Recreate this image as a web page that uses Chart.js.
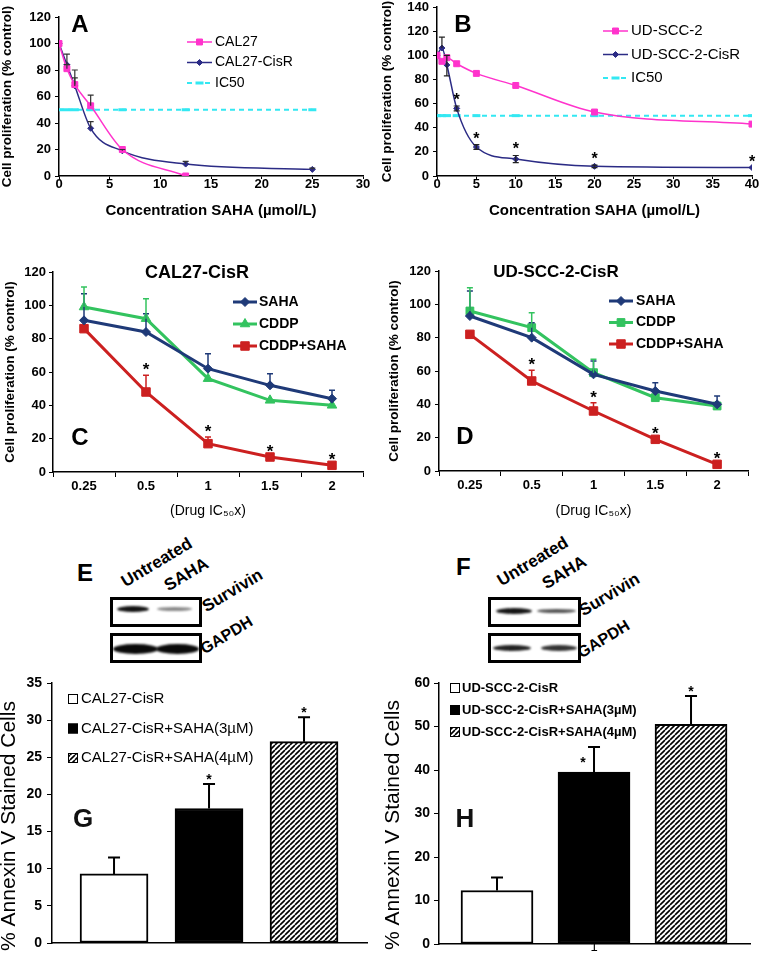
<!DOCTYPE html>
<html>
<head>
<meta charset="utf-8">
<title>SAHA / CDDP panels</title>
<script src="https://cdn.jsdelivr.net/npm/chart.js@4.4.1/dist/chart.umd.min.js"></script>
<style>
  body { margin: 0; background: #fff; font-family: "Liberation Sans", Arial, sans-serif; }
  #page { position: relative; width: 759px; height: 962px; overflow: hidden; background: #fff; }
  canvas, .blot, .band, .lbl, .letter { position: absolute; }
  .blot { border: 3px solid #000; background: #fff; box-sizing: border-box; }
  .band { border-radius: 50%; filter: blur(1.3px); }
  .lbl { font-weight: bold; font-size: 17px; line-height: 1; white-space: nowrap; transform-origin: 0 100%; transform: rotate(-31deg); }
  .letter { font-weight: bold; font-size: 24px; line-height: 1; }
</style>
</head>
<body>
<div id="page">
  <canvas id="cA" width="380" height="222" style="left:0;top:0"></canvas>
  <canvas id="cB" width="379" height="222" style="left:380px;top:0"></canvas>
  <canvas id="cC" width="380" height="290" style="left:0;top:240px"></canvas>
  <canvas id="cD" width="379" height="290" style="left:380px;top:240px"></canvas>

  <!-- western blots E -->
  <div class="letter" style="left:77px;top:561px">E</div>
  <div class="lbl" style="left:127px;top:573px">Untreated</div>
  <div class="lbl" style="left:170px;top:577px">SAHA</div>
  <div class="lbl" style="left:208px;top:598px">Survivin</div>
  <div class="lbl" style="left:206px;top:641px;font-size:16px">GAPDH</div>
  <div class="blot" style="left:110px;top:597px;width:92px;height:30px"></div>
  <div class="band" style="left:117px;top:606px;width:32px;height:6px;background:#111"></div>
  <div class="band" style="left:157px;top:607px;width:35px;height:4px;background:#888"></div>
  <div class="blot" style="left:110px;top:633px;width:92px;height:30px"></div>
  <div class="band" style="left:113px;top:644px;width:45px;height:10px;background:#0a0a0a"></div>
  <div class="band" style="left:156px;top:644px;width:43px;height:10px;background:#0a0a0a"></div>

  <!-- western blots F -->
  <div class="letter" style="left:456px;top:555px">F</div>
  <div class="lbl" style="left:503px;top:572px">Untreated</div>
  <div class="lbl" style="left:548px;top:575px">SAHA</div>
  <div class="lbl" style="left:585px;top:602px">Survivin</div>
  <div class="lbl" style="left:583px;top:645px;font-size:16px">GAPDH</div>
  <div class="blot" style="left:488px;top:597px;width:93px;height:30px"></div>
  <div class="band" style="left:496px;top:608px;width:36px;height:6px;background:#151515"></div>
  <div class="band" style="left:537px;top:609px;width:39px;height:4px;background:#555"></div>
  <div class="blot" style="left:488px;top:633px;width:93px;height:30px"></div>
  <div class="band" style="left:493px;top:645px;width:38px;height:6px;background:#222"></div>
  <div class="band" style="left:541px;top:645px;width:36px;height:6px;background:#333"></div>

  <canvas id="cG" width="380" height="292" style="left:0;top:670px"></canvas>
  <canvas id="cH" width="379" height="292" style="left:380px;top:670px"></canvas>
</div>

<script>
// ---- data ----
// A: SAHA dose response, CAL27 lines
const concA = [0, 0.78, 1.56, 3.125, 6.25, 12.5, 25];
const cal27 = [100, 81, 69, 53, 20, 0];
const cal27Err = [0, 3, 5, 8, 0, 0];
const cal27Cis = [100, 84, 68, 36, 19, 9, 5];
const cal27CisErr = [0, 8, 12, 5, 1, 2, 1];
const ic50A = [50, 50, 50, 50, 50, 50, 50];

// B: SAHA dose response, UD-SCC-2 lines
const concB = [0, 0.625, 1.25, 2.5, 5, 10, 20, 40];
const udscc = [100, 95, 98, 93, 85, 75, 53, 43];
const udsccCis = [100, 106, 92, 56, 24, 14, 8, 7];
const udsccCisErrUp = [0, 9, 8, 2, 2, 3, 1, 0];
const udsccCisErrDown = [0, 0, 9, 2, 2, 3, 1, 0];
const ic50B = [50, 50, 50, 50, 50, 50, 50, 50];
const starsB = [3, 4, 5, 6, 7];

// C / D: combination, x = drug IC50 multiples
const doseLabels = ['0.25', '0.5', '1', '1.5', '2'];
const cSaha = [91, 84, 62, 52, 44];
const cSahaErr = [16, 11, 9, 7, 5];
const cCddp = [99, 92, 56, 43, 40];
const cCddpErr = [12, 12, 0, 0, 0];
const cCombo = [86, 48, 17, 9, 4];
const cComboErr = [0, 10, 4, 0, 0];
const starsC = [1, 2, 3, 4];

const dSaha = [93, 80, 58, 48, 40];
const dSahaErr = [15, 9, 8, 5, 5];
const dCddp = [96, 86, 59, 44, 39];
const dCddpErr = [14, 9, 8, 0, 0];
const dCombo = [82, 54, 36, 19, 4];
const dComboErr = [0, 6.5, 5, 0, 0];
const starsD = [1, 2, 3, 4];

// G / H: annexin V
const groupsG = ['CAL27-CisR', 'CAL27-CisR+SAHA(3µM)', 'CAL27-CisR+SAHA(4µM)'];
const annexinG = [9.3, 18.1, 27.1];
const annexinGErr = [2.2, 3.3, 3.3];
const groupsH = ['UD-SCC-2-CisR', 'UD-SCC-2-CisR+SAHA(3µM)', 'UD-SCC-2-CisR+SAHA(4µM)'];
const annexinH = [12.3, 39.5, 50.5];
const annexinHErr = [3, 5.8, 6.5];

// ---- setup ----
const FONT = '"Liberation Sans", Arial, sans-serif';
Chart.defaults.font.family = FONT;
Chart.defaults.color = '#000';
Chart.defaults.animation = false;
Chart.defaults.responsive = false;
Chart.defaults.plugins.legend.display = false;
Chart.defaults.plugins.tooltip.enabled = false;

const MAG = '#ff33cc', NAVY = '#2b2b85', CYAN = '#33e8f2';
const BLUE = '#1f3a78', GREEN = '#33c35f', RED = '#cc2020';

function pts(xs, ys) { return ys.map((v, i) => ({x: xs[i], y: v})); }
function valOf(r) { return (r !== null && typeof r === 'object') ? r.y : r; }

function makeHatch() {
  const c = document.createElement('canvas');
  c.width = 5; c.height = 5;
  const g = c.getContext('2d');
  g.fillStyle = '#fff'; g.fillRect(0, 0, 5, 5);
  g.strokeStyle = '#000'; g.lineWidth = 1.6;
  g.beginPath();
  for (let k = -5; k <= 10; k += 5) { g.moveTo(k, 5); g.lineTo(k + 5, 0); }
  g.stroke();
  return g.createPattern(c, 'repeat');
}

// error bars from dataset.errUp / errDown
const errorBars = {
  id: 'errorBars',
  afterDatasetsDraw(chart, args, o) {
    const ctx = chart.ctx, ys = chart.scales.y;
    chart.data.datasets.forEach((ds, i) => {
      const up = ds.errUp || [], down = ds.errDown || [];
      if (!up.length && !down.length) return;
      ctx.save();
      ctx.strokeStyle = o.color || ds.borderColor;
      ctx.lineWidth = o.width;
      chart.getDatasetMeta(i).data.forEach((el, j) => {
        const v = valOf(ds.data[j]);
        [[up[j], 1], [down[j], -1]].forEach(([e, s]) => {
          if (!e) return;
          const py = ys.getPixelForValue(v + s * e);
          ctx.beginPath();
          ctx.moveTo(el.x, el.y); ctx.lineTo(el.x, py);
          ctx.moveTo(el.x - o.cap, py); ctx.lineTo(el.x + o.cap, py);
          ctx.stroke();
        });
      });
      ctx.restore();
    });
  }
};

// significance stars above the error bar tops
const stars = {
  id: 'stars',
  afterDatasetsDraw(chart, args, o) {
    if (!o.list) return;
    const ctx = chart.ctx, ys = chart.scales.y;
    ctx.save();
    ctx.font = o.font; ctx.fillStyle = '#000';
    ctx.textAlign = 'center'; ctx.textBaseline = 'alphabetic';
    o.list.forEach(([di, j, dx, dy]) => {
      const ds = chart.data.datasets[di];
      const top = valOf(ds.data[j]) + ((ds.errUp || [])[j] || 0);
      const el = chart.getDatasetMeta(di).data[j];
      ctx.fillText('*', el.x + (dx || 0), ys.getPixelForValue(top) - o.gap + (dy || 0));
    });
    ctx.restore();
  }
};

// legend drawn inside the plot
const sideLegend = {
  id: 'sideLegend',
  afterDraw(chart, args, o) {
    if (o.x === undefined) return;
    const ctx = chart.ctx;
    chart.data.datasets.forEach((ds, i) => {
      const y = o.y + i * o.rowH;
      let tx;
      ctx.save();
      if (o.box) {
        ctx.fillStyle = ds.backgroundColor;
        ctx.fillRect(o.x, y - o.box / 2, o.box, o.box);
        ctx.strokeStyle = '#000'; ctx.lineWidth = 1;
        ctx.strokeRect(o.x + 0.5, y - o.box / 2 + 0.5, o.box - 1, o.box - 1);
        tx = o.x + o.box + o.gap;
      } else {
        ctx.strokeStyle = ds.borderColor; ctx.lineWidth = ds.borderWidth;
        ctx.setLineDash(ds.borderDash || []);
        ctx.beginPath(); ctx.moveTo(o.x, y); ctx.lineTo(o.x + o.len, y); ctx.stroke();
        ctx.setLineDash([]);
        ctx.fillStyle = ds.pointBackgroundColor; ctx.strokeStyle = ds.pointBorderColor;
        ctx.lineWidth = ds.pointBorderWidth;
        const pOpts = {pointStyle: ds.pointStyle, radius: ds.pointRadius, rotation: 0, borderWidth: ds.pointBorderWidth};
        if (Chart.helpers && Chart.helpers.drawPoint) Chart.helpers.drawPoint(ctx, pOpts, o.x + o.len / 2, y);
        tx = o.x + o.len + o.gap;
      }
      ctx.fillStyle = '#000'; ctx.font = o.font;
      ctx.textAlign = 'left'; ctx.textBaseline = 'middle';
      ctx.fillText(ds.label, tx, y);
      ctx.restore();
    });
  }
};

// free text: panel letters, titles
const texts = {
  id: 'texts',
  afterDraw(chart, args, o) {
    const ctx = chart.ctx;
    (o.items || []).forEach(t => {
      ctx.save();
      ctx.font = t.font; ctx.fillStyle = t.color || '#000';
      ctx.textAlign = 'center'; ctx.textBaseline = 'middle';
      ctx.translate(t.x, t.y);
      if (t.rot) ctx.rotate(t.rot * Math.PI / 180);
      ctx.fillText(t.text, 0, 0);
      ctx.restore();
    });
  }
};

const allPlugins = [errorBars, stars, sideLegend, texts];

function yAxis(o) {
  return {
    min: 0, max: o.max,
    ticks: {stepSize: o.step, color: '#000', padding: o.pad, font: o.font},
    grid: {drawOnChartArea: false, color: '#000', tickLength: o.tick, lineWidth: 1},
    border: {color: '#000', width: 1.5},
    title: o.title ? {display: true, text: o.title, color: '#000', font: o.titleFont, padding: {top: o.titlePad, bottom: 0}} : {display: false},
    afterFit(s) { s.width = o.width; s.paddingTop = 0; s.paddingBottom = 0; }
  };
}

function xAxis(o) {
  const ax = {
    offset: !!o.offset,
    ticks: {color: '#000', padding: o.pad, font: o.font, display: o.labels !== false},
    grid: {drawOnChartArea: false, color: '#000', tickLength: o.tick, drawTicks: o.tick > 0, offset: !!o.offset},
    border: {color: '#000', width: 1.5},
    title: o.title ? {display: true, text: o.title, color: '#000', font: o.titleFont, padding: {top: 0, bottom: o.titlePad}} : {display: false},
    afterFit(s) { s.height = o.height; s.paddingLeft = 0; s.paddingRight = 0; }
  };
  if (o.step) ax.ticks.stepSize = o.step;
  if (o.callback) { ax.ticks.callback = o.callback; ax.ticks.includeBounds = false; }
  return Object.assign(ax, o.extra || {});
}

function lineSet(label, data, color, style, r, bw, extra) {
  const ds = Object.assign({
    label, data,
    borderColor: color, backgroundColor: color,
    pointBackgroundColor: color, pointBorderColor: color,
    pointStyle: style, pointRadius: r, pointBorderWidth: 1,
    borderWidth: bw, fill: false,
    cubicInterpolationMode: 'monotone', tension: 0.4
  }, extra);
  if (ds.tension === 0) ds.cubicInterpolationMode = 'default';
  return ds;
}

const tickBold = {size: 13, weight: 'bold'};
const yTitleFont = {size: 13.5, weight: 'bold'};
const concTitle = 'Concentration SAHA (µmol/L)';
const cellTitle = 'Cell proliferation (% control)';

// ---- A ----
new Chart(document.getElementById('cA'), {
  type: 'line',
  data: {datasets: [
    lineSet('CAL27', pts(concA, cal27), MAG, 'rect', 4.2, 1.5, {errUp: cal27Err}),
    lineSet('CAL27-CisR', pts(concA, cal27Cis), NAVY, 'rectRot', 3, 1.5, {errUp: cal27CisErr}),
    lineSet('IC50', pts(concA, ic50A), CYAN, 'line', 4, 2, {borderDash: [5, 4], pointBorderWidth: 3, tension: 0})
  ]},
  options: {
    layout: {padding: {top: 17, right: 17, left: 0, bottom: 0}},
    scales: {
      x: xAxis({extra: {type: 'linear', min: 0, max: 30}, step: 5, height: 46, tick: 3, pad: -2, font: tickBold,
        title: concTitle, titleFont: {size: 15, weight: 'bold'}, titlePad: 2}),
      y: yAxis({max: 120, step: 20, width: 59, tick: 4, pad: 4, font: tickBold, title: cellTitle, titleFont: yTitleFont, titlePad: -1})
    },
    plugins: {
      errorBars: {cap: 3, width: 1.2, color: '#333'},
      sideLegend: {x: 187, y: 42, rowH: 20.5, len: 25, gap: 3, font: '14px ' + FONT},
      texts: {items: [{text: 'A', x: 80, y: 25, font: 'bold 24px ' + FONT}]}
    }
  },
  plugins: allPlugins
});

// ---- B ----
new Chart(document.getElementById('cB'), {
  type: 'line',
  data: {datasets: [
    lineSet('UD-SCC-2', pts(concB, udscc), MAG, 'rect', 4.2, 1.5, {}),
    lineSet('UD-SCC-2-CisR', pts(concB, udsccCis), NAVY, 'rectRot', 3, 1.5, {errUp: udsccCisErrUp, errDown: udsccCisErrDown}),
    lineSet('IC50', pts(concB, ic50B), CYAN, 'line', 4, 2, {borderDash: [5, 4], pointBorderWidth: 3, tension: 0})
  ]},
  options: {
    layout: {padding: {top: 7, right: 6, left: 0, bottom: 0}},
    scales: {
      x: xAxis({extra: {type: 'linear', min: 0, max: 40}, step: 5, height: 46, tick: 3, pad: -2, font: tickBold,
        title: concTitle, titleFont: {size: 15, weight: 'bold'}, titlePad: 2}),
      y: yAxis({max: 140, step: 20, width: 57, tick: 4, pad: 4, font: tickBold, title: cellTitle, titleFont: yTitleFont, titlePad: -1})
    },
    plugins: {
      errorBars: {cap: 3, width: 1.2, color: '#222'},
      stars: {list: starsB.map(j => [1, j]), font: 'bold 16px ' + FONT, gap: 1},
      sideLegend: {x: 223, y: 31, rowH: 23.5, len: 25, gap: 3, font: '15px ' + FONT},
      texts: {items: [{text: 'B', x: 83, y: 25, font: 'bold 24px ' + FONT}]}
    }
  },
  plugins: allPlugins
});

// ---- C ----
const drugTitle = '(Drug IC₅₀x)';
new Chart(document.getElementById('cC'), {
  type: 'line',
  data: {labels: doseLabels, datasets: [
    lineSet('SAHA', cSaha, BLUE, 'rectRot', 4.5, 3, {errUp: cSahaErr, tension: 0}),
    lineSet('CDDP', cCddp, GREEN, 'triangle', 5.5, 3, {errUp: cCddpErr, tension: 0}),
    lineSet('CDDP+SAHA', cCombo, RED, 'rect', 6, 3, {errUp: cComboErr, tension: 0})
  ]},
  options: {
    layout: {padding: {top: 32, right: 17, left: 0, bottom: 0}},
    scales: {
      x: xAxis({offset: true, height: 58, tick: 5, pad: 2, font: tickBold,
        title: drugTitle, titleFont: {size: 14}, titlePad: 10}),
      y: yAxis({max: 120, step: 20, width: 53, tick: 4, pad: 3, font: tickBold, title: cellTitle, titleFont: yTitleFont, titlePad: 2})
    },
    plugins: {
      errorBars: {cap: 3, width: 1.5},
      stars: {list: starsC.map(j => [2, j]), font: 'bold 17px ' + FONT, gap: 0},
      sideLegend: {x: 233, y: 62, rowH: 22, len: 24, gap: 2, font: 'bold 14px ' + FONT},
      texts: {items: [
        {text: 'CAL27-CisR', x: 197, y: 33, font: 'bold 18px ' + FONT},
        {text: 'C', x: 80, y: 198, font: 'bold 24px ' + FONT}
      ]}
    }
  },
  plugins: allPlugins
});

// ---- D ----
new Chart(document.getElementById('cD'), {
  type: 'line',
  data: {labels: doseLabels, datasets: [
    lineSet('SAHA', dSaha, BLUE, 'rectRot', 4.5, 3, {errUp: dSahaErr, tension: 0}),
    lineSet('CDDP', dCddp, GREEN, 'rect', 5.5, 3, {errUp: dCddpErr, tension: 0}),
    lineSet('CDDP+SAHA', dCombo, RED, 'rect', 6, 3, {errUp: dComboErr, tension: 0})
  ]},
  options: {
    layout: {padding: {top: 31, right: 11, left: 0, bottom: 0}},
    scales: {
      x: xAxis({offset: true, height: 59, tick: 5, pad: 2, font: tickBold,
        title: drugTitle, titleFont: {size: 14}, titlePad: 10}),
      y: yAxis({max: 120, step: 20, width: 59, tick: 4, pad: 4, font: tickBold, title: cellTitle, titleFont: yTitleFont, titlePad: 6})
    },
    plugins: {
      errorBars: {cap: 3, width: 1.5},
      stars: {list: starsD.map(j => [2, j]), font: 'bold 17px ' + FONT, gap: 0},
      sideLegend: {x: 229, y: 61, rowH: 21.5, len: 24, gap: 3, font: 'bold 14px ' + FONT},
      texts: {items: [
        {text: 'UD-SCC-2-CisR', x: 176, y: 32, font: 'bold 17px ' + FONT},
        {text: 'D', x: 85, y: 197, font: 'bold 24px ' + FONT}
      ]}
    }
  },
  plugins: allPlugins
});

// ---- G / H bars ----
const hatchFill = makeHatch();
const barFills = ['#ffffff', '#000000', hatchFill];

function barSets(groups, values, errs, thick) {
  return groups.map((g, i) => ({
    label: g,
    data: [{x: i + 1, y: values[i]}],
    errUp: [errs[i]],
    backgroundColor: barFills[i],
    borderColor: '#000', borderWidth: 2, borderSkipped: false,
    barThickness: thick, grouped: false
  }));
}

new Chart(document.getElementById('cG'), {
  type: 'bar',
  data: {datasets: barSets(groupsG, annexinG, annexinGErr, 68)},
  options: {
    layout: {padding: {top: 13, right: 13, left: 0, bottom: 0}},
    scales: {
      x: xAxis({extra: {type: 'linear', min: 0.347, max: 3.663}, height: 19, tick: 0, pad: 0, labels: false, font: {size: 13}}),
      y: yAxis({max: 35, step: 5, width: 52, tick: 5, pad: 5, font: {size: 14, weight: 'bold'}})
    },
    plugins: {
      errorBars: {cap: 6, width: 2, color: '#000'},
      stars: {list: [[1, 0], [2, 0]], font: 'bold 14px ' + FONT, gap: 0},
      sideLegend: {x: 68, y: 29, rowH: 29.5, box: 10, gap: 3, font: '15px ' + FONT},
      texts: {items: [
        {text: '% Annexin V Stained Cells', x: 9, y: 156, rot: -90, font: '21px ' + FONT},
        {text: 'G', x: 83, y: 150, font: 'bold 26px ' + FONT, color: '#111'}
      ]}
    }
  },
  plugins: allPlugins
});

new Chart(document.getElementById('cH'), {
  type: 'bar',
  data: {datasets: barSets(groupsH, annexinH, annexinHErr, 72)},
  options: {
    layout: {padding: {top: 13, right: 9, left: 0, bottom: 0}},
    scales: {
      x: xAxis({extra: {type: 'linear', min: 0.402, max: 3.608}, step: 1, callback: v => (v === 2 ? '1' : ''),
        height: 18, tick: 0, pad: -4, font: {size: 13}}),
      y: yAxis({max: 60, step: 10, width: 59, tick: 5, pad: 4, font: {size: 14, weight: 'bold'}})
    },
    plugins: {
      errorBars: {cap: 6, width: 2, color: '#000'},
      stars: {list: [[1, 0, -11, 20], [2, 0]], font: 'bold 14px ' + FONT, gap: 0},
      sideLegend: {x: 70, y: 18, rowH: 22, box: 10, gap: 2, font: 'bold 13px ' + FONT},
      texts: {items: [
        {text: '% Annexin V Stained Cells', x: 13, y: 155, rot: -90, font: '21px ' + FONT},
        {text: 'H', x: 85, y: 150, font: 'bold 26px ' + FONT, color: '#111'}
      ]}
    }
  },
  plugins: allPlugins
});
</script>
</body>
</html>
